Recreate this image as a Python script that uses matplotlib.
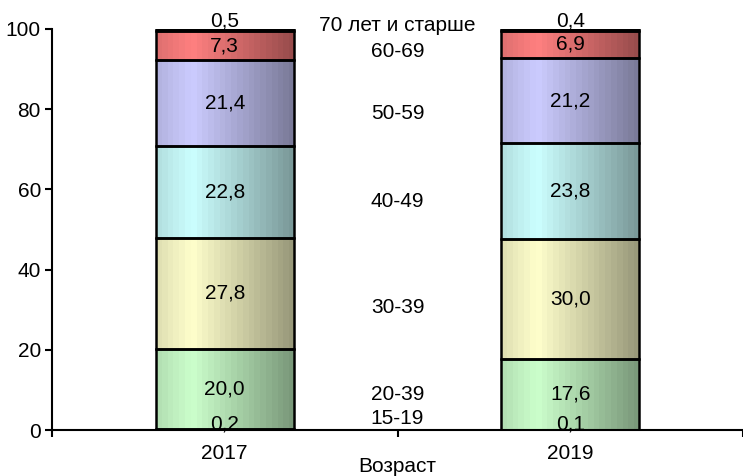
import matplotlib
matplotlib.use("Agg")
import matplotlib.pyplot as plt
import numpy as np
from matplotlib.colors import to_rgb

plt.rcParams['font.family'] = ['Liberation Sans', 'DejaVu Sans']

years = ['2017', '2019']
age_groups = ['15-19', '20-39', '30-39', '40-49', '50-59', '60-69', '70 лет и старше']
values_2017 = [0.2, 20.0, 27.8, 22.8, 21.4, 7.3, 0.5]
values_2019 = [0.1, 17.6, 30.0, 23.8, 21.2, 6.9, 0.4]
# where the age names sit in the middle column (value axis)
age_label_y = [2.8, 8.8, 30.5, 57.0, 78.9, 94.4, 100.9]
seg_colors = ['#CCFFCC', '#CCFFCC', '#FFFFCC', '#CCFFFF', '#CCCCFF', '#FF8080', '#555555']

FS = 15


def gradient(color, n=24):
    light = np.array(to_rgb(color))
    dark = light * 0.6
    t = np.linspace(0, 1, n)
    w = np.clip(np.abs(t - 0.25) / 0.75, 0, 1)
    w[t < 0.25] *= 0.9
    img = light[None, :] * (1 - w[:, None]) + dark[None, :] * w[:, None]
    return img[None, :, :]


fig = plt.figure(figsize=(7.43, 4.76), dpi=100)
ax = fig.add_axes([52 / 743, 46 / 476, 691 / 743, 401 / 476])

width = 0.4
centers = [0.5, 1.5]
for xc, vals in zip(centers, [values_2017, values_2019]):
    bottom = 0
    for i, v in enumerate(vals):
        ax.imshow(gradient(seg_colors[i]), extent=[xc - width / 2, xc + width / 2, bottom, bottom + v],
                  aspect='auto', interpolation='nearest', zorder=2)
        ax.bar(xc, v, width, bottom=bottom, facecolor='none', edgecolor='black', linewidth=1.8, zorder=3)
        ty = bottom + v / 2
        if i == 0:
            ty += 1.5
        elif i == len(vals) - 1:
            ty += 2.2
        ax.text(xc, ty, ('%.1f' % v).replace('.', ','), ha='center', va='center',
                fontsize=FS, zorder=4, clip_on=False)
        bottom += v

for name, y in zip(age_groups, age_label_y):
    ax.text(1.0, y, name, ha='center', va='center', fontsize=FS, clip_on=False)

for xc, yr in zip(centers, years):
    ax.text(xc, -5.8, yr, ha='center', va='center', fontsize=FS, clip_on=False)
ax.text(1.0, -9, 'Возраст', ha='center', va='center', fontsize=FS, clip_on=False)

ax.set_xlim(0, 2)
ax.set_ylim(0, 100)
ax.set_xticks([0, 1, 2])
ax.set_xticklabels([])
ax.set_yticks(range(0, 101, 20))
ax.tick_params(axis='y', labelsize=FS, length=5, width=1.5, direction='out', pad=3)
ax.tick_params(axis='x', length=5, width=1.5, direction='out')
for s in ['top', 'right']:
    ax.spines[s].set_visible(False)
for s in ['left', 'bottom']:
    ax.spines[s].set_linewidth(1.5)

fig.savefig('out.png', dpi=100)
